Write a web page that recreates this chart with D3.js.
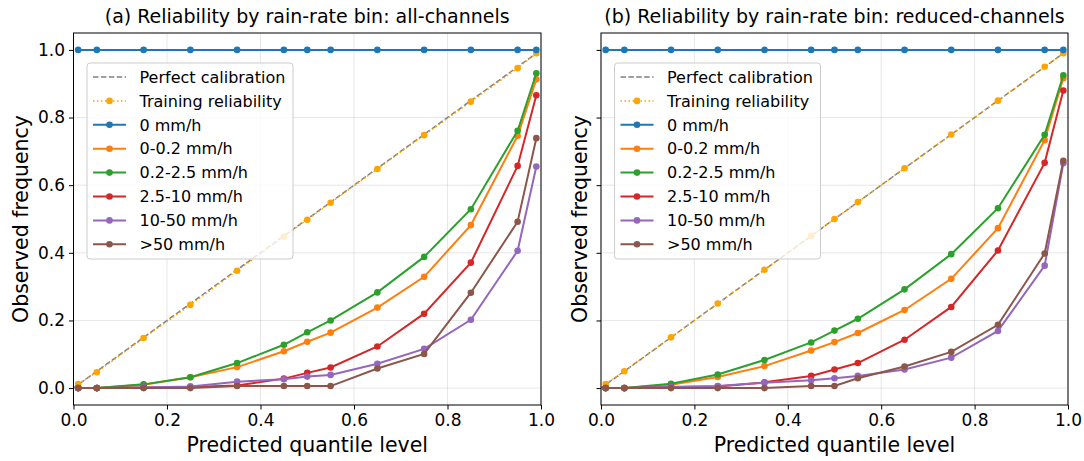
<!DOCTYPE html>
<html><head><meta charset="utf-8">
<script src="https://cdn.jsdelivr.net/npm/d3@7"></script>
<style>
html,body{margin:0;padding:0;background:#fff;}
svg{display:block;font-family:"DejaVu Sans",sans-serif;}
</style></head>
<body><svg id="chart" width="1084" height="461"></svg>
<script>
const quantiles = [0.01,0.05,0.15,0.25,0.35,0.45,0.5,0.55,0.65,0.75,0.85,0.95,0.99];
const seriesNames = ["0 mm/h","0-0.2 mm/h","0.2-2.5 mm/h","2.5-10 mm/h","10-50 mm/h",">50 mm/h"];
const seriesColors = ["#1f77b4","#ff7f0e","#2ca02c","#d62728","#9467bd","#8c564b"];
const panelTitles = ["(a) Reliability by rain-rate bin: all-channels","(b) Reliability by rain-rate bin: reduced-channels"];
const xTicks = [0,0.2,0.4,0.6,0.8,1.0];
const yTicks = [0,0.2,0.4,0.6,0.8,1.0];
const perfectLine = [[0,0],[1,1]];
const trainingA = [0.012,0.047,0.148,0.246,0.347,0.448,0.498,0.548,0.648,0.748,0.847,0.946,0.990];
const trainingB = [0.012,0.050,0.150,0.250,0.350,0.450,0.500,0.550,0.650,0.750,0.850,0.950,0.990];
// panel (a) all-channels
const a0   = [1,1,1,1,1,1,1,1,1,1,1,1,1];
const a02  = [0,0,0.010,0.032,0.062,0.109,0.137,0.164,0.238,0.329,0.482,0.746,0.913];
const a25  = [0,0,0.011,0.032,0.074,0.128,0.165,0.200,0.283,0.388,0.529,0.761,0.931];
const a10  = [0,0,0.002,0.003,0.008,0.028,0.045,0.061,0.123,0.220,0.371,0.657,0.866];
const a50  = [0,0,0.002,0.005,0.019,0.026,0.034,0.039,0.072,0.116,0.202,0.406,0.655];
const aGt  = [0,0,0,0,0.006,0.006,0.006,0.006,0.058,0.101,0.282,0.492,0.739];
// panel (b) reduced-channels
const b0   = [1,1,1,1,1,1,1,1,1,1,1,1,1];
const b02  = [0,0,0.010,0.033,0.065,0.111,0.136,0.163,0.231,0.323,0.473,0.733,0.916];
const b25  = [0,0,0.013,0.040,0.083,0.135,0.170,0.205,0.292,0.396,0.532,0.749,0.925];
const b10  = [0,0,0.003,0.005,0.017,0.036,0.055,0.074,0.143,0.240,0.407,0.666,0.880];
const b50  = [0,0,0.003,0.006,0.016,0.023,0.029,0.036,0.055,0.090,0.169,0.362,0.665];
const bGt  = [0,0,0,0,0,0.006,0.006,0.029,0.064,0.107,0.187,0.398,0.672];

const panels = [
  {title: panelTitles[0], left: 73.5, right: 541, training: trainingA, series: [a0,a02,a25,a10,a50,aGt], yLabels: true},
  {title: panelTitles[1], left: 601, right: 1068, training: trainingB, series: [b0,b02,b25,b10,b50,bGt], yLabels: false}
];
const plotTop = 33, plotBottom = 405;
const svg = d3.select("#chart");

panels.forEach((p, pi) => {
  const x = d3.scaleLinear().domain([0,1]).range([p.left, p.right]);
  const y = d3.scaleLinear().domain([-0.05,1.05]).range([plotBottom, plotTop]);
  const g = svg.append("g");
  const clipId = "clip" + pi;
  svg.append("clipPath").attr("id", clipId).append("rect")
    .attr("x", p.left - 4).attr("y", plotTop).attr("width", p.right - p.left + 8).attr("height", plotBottom - plotTop);

  // grid
  g.append("g").selectAll("line").data(xTicks).join("line")
    .attr("x1", d => x(d)).attr("x2", d => x(d)).attr("y1", plotTop).attr("y2", plotBottom)
    .attr("stroke", "#b0b0b0").attr("stroke-opacity", 0.3).attr("stroke-width", 1);
  g.append("g").selectAll("line").data(yTicks).join("line")
    .attr("y1", d => y(d)).attr("y2", d => y(d)).attr("x1", p.left).attr("x2", p.right)
    .attr("stroke", "#b0b0b0").attr("stroke-opacity", 0.3).attr("stroke-width", 1);

  const plot = g.append("g").attr("clip-path", `url(#${clipId})`);
  const line = d3.line().x(d => x(d[0])).y(d => y(d[1]));

  // perfect calibration
  plot.append("path").datum(perfectLine).attr("d", line).attr("fill", "none")
    .attr("stroke", "#808080").attr("stroke-width", 1.5).attr("stroke-dasharray", "5.5,2.4");
  // training reliability
  const tr = quantiles.map((q, i) => [q, p.training[i]]);
  plot.append("path").datum(tr).attr("d", line).attr("fill", "none")
    .attr("stroke", "#ffa500").attr("stroke-width", 1.5).attr("stroke-dasharray", "1.5,2.5");
  plot.append("g").selectAll("circle").data(tr).join("circle")
    .attr("cx", d => x(d[0])).attr("cy", d => y(d[1])).attr("r", 3.3).attr("fill", "#ffa500");

  p.series.forEach((vals, si) => {
    const pts = quantiles.map((q, i) => [q, vals[i]]);
    plot.append("path").datum(pts).attr("d", line).attr("fill", "none")
      .attr("stroke", seriesColors[si]).attr("stroke-width", 2);
    plot.append("g").selectAll("circle").data(pts).join("circle")
      .attr("cx", d => x(d[0])).attr("cy", d => y(d[1])).attr("r", 3.3).attr("fill", seriesColors[si]);
  });

  // axes
  const xAxis = d3.axisBottom(x).tickValues(xTicks).tickFormat(d3.format(".1f")).tickSizeOuter(0).tickSize(4.5).tickPadding(4);
  const xg = g.append("g").attr("transform", `translate(0,${plotBottom})`).call(xAxis);
  xg.select(".domain").remove();
  xg.selectAll("text").attr("font-size", 17).attr("fill", "#000").attr("font-family", "DejaVu Sans");
  xg.selectAll("line").attr("stroke", "#000").attr("stroke-width", 1);

  const yAxis = d3.axisLeft(y).tickValues(yTicks).tickFormat(p.yLabels ? d3.format(".1f") : () => "").tickSizeOuter(0).tickSize(4.5).tickPadding(4);
  const yg = g.append("g").attr("transform", `translate(${p.left},0)`).call(yAxis);
  yg.select(".domain").remove();
  yg.selectAll("text").attr("font-size", 17).attr("fill", "#000").attr("font-family", "DejaVu Sans");
  yg.selectAll("line").attr("stroke", "#000").attr("stroke-width", 1);

  // spines
  g.append("rect").attr("x", p.left).attr("y", plotTop).attr("width", p.right - p.left).attr("height", plotBottom - plotTop)
    .attr("fill", "none").attr("stroke", "#000").attr("stroke-width", 1);

  // title
  g.append("text").attr("x", (p.left + p.right) / 2).attr("y", 23).attr("text-anchor", "middle")
    .attr("font-size", 19).attr("fill", "#000").text(p.title);
  // x label
  g.append("text").attr("x", (p.left + p.right) / 2).attr("y", 452).attr("text-anchor", "middle")
    .attr("font-size", 20.5).attr("fill", "#000").text("Predicted quantile level");
  // y label
  g.append("text").attr("transform", `translate(${p.left - (pi === 0 ? 46 : 14)},${(plotTop + plotBottom) / 2}) rotate(-90)`)
    .attr("text-anchor", "middle").attr("font-size", 20.5).attr("fill", "#000").text("Observed frequency");

  // legend
  const lx = p.left + 13.5, ly = 63;
  const lg = g.append("g");
  lg.append("rect").attr("x", lx).attr("y", ly).attr("width", 206).attr("height", 196).attr("rx", 3)
    .attr("fill", "#fff").attr("fill-opacity", 0.8).attr("stroke", "#cccccc").attr("stroke-width", 1);
  const entries = [
    {name: "Perfect calibration", color: "#808080", dash: "5.5,2.4", marker: false, w: 1.5},
    {name: "Training reliability", color: "#ffa500", dash: "1.5,2.5", marker: true, w: 1.5}
  ].concat(seriesNames.map((n, i) => ({name: n, color: seriesColors[i], dash: null, marker: true, w: 2})));
  entries.forEach((e, i) => {
    const yy = ly + 14 + i * 23.9;
    lg.append("line").attr("x1", lx + 6).attr("x2", lx + 39).attr("y1", yy).attr("y2", yy)
      .attr("stroke", e.color).attr("stroke-width", e.w).attr("stroke-dasharray", e.dash);
    if (e.marker) lg.append("circle").attr("cx", lx + 22.5).attr("cy", yy).attr("r", 3.3).attr("fill", e.color);
    lg.append("text").attr("x", lx + 52.5).attr("y", yy).attr("dy", "0.36em")
      .attr("font-size", 16).attr("fill", "#000").text(e.name);
  });
});
</script></body></html>
